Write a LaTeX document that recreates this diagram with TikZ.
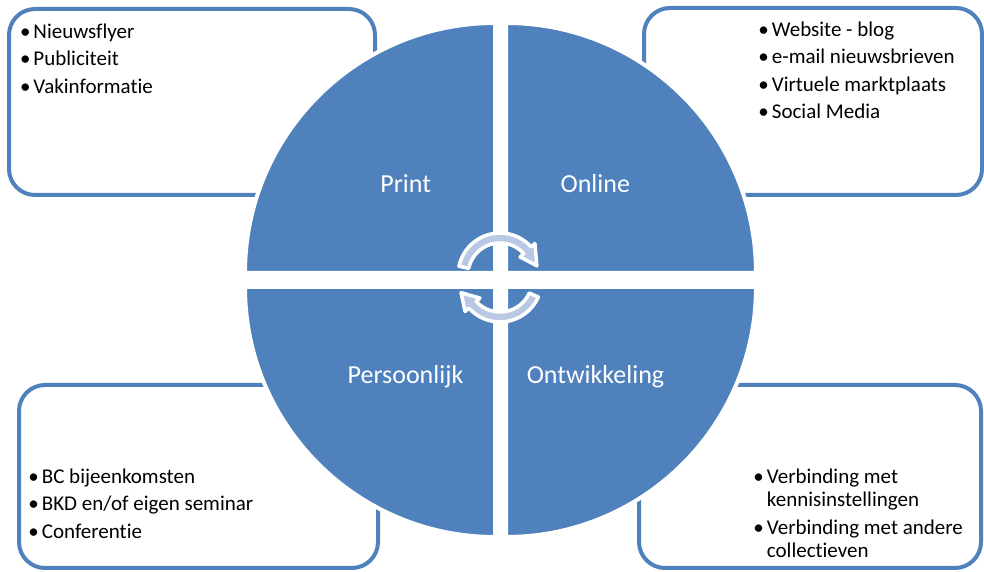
\documentclass[tikz,border=0pt]{standalone}
\usepackage{fontspec}
\setmainfont{Carlito}[RawFeature=-liga]
\definecolor{kwartblauw}{RGB}{79,129,189}
\definecolor{pijllicht}{RGB}{185,201,228}
\newcommand{\bul}{\llap{\textbullet\hspace{3pt}}}
\begin{document}
\begin{tikzpicture}[x=1pt,y=1pt,
    kader/.style={draw=kwartblauw,line width=4pt,rounded corners=26pt,fill=white},
    kwart/.style={fill=kwartblauw,draw=white,line width=4pt},
    pijl/.style={fill=pijllicht,draw=white,line width=3.5pt,line join=round},
    lijst/.style={anchor=base west,inner sep=0pt,font=\fontsize{21}{25}\selectfont},
    titel/.style={anchor=base,inner sep=0pt,text=white,font=\fontsize{26}{30}\selectfont}]
  \useasboundingbox (0,0) rectangle (984,572);
  % kaders in de hoeken
  \draw[kader] (9,377) rectangle (375,563);
  \draw[kader] (644,377) rectangle (982,564);
  \draw[kader] (19,4) rectangle (378,187);
  \draw[kader] (639,4) rectangle (981,187);
  %% vier kwarten
  \draw[kwart] (495,299) -- ++(180:250) arc[start angle=180,end angle=90,radius=250] -- cycle;
  \draw[kwart] (506,299) -- ++(90:250) arc[start angle=90,end angle=0,radius=250] -- cycle;
  \draw[kwart] (495,285) -- ++(270:250) arc[start angle=270,end angle=180,radius=250] -- cycle;
  \draw[kwart] (506,285) -- ++(0:250) arc[start angle=0,end angle=-90,radius=250] -- cycle;
  %% pijlen in het midden
  \begin{scope}[shift={(500,297)}]
    \draw[pijl] (168:42) arc[start angle=168,end angle=42,radius=42] -- (42:47)
      -- (14:38) -- (42:27) -- (42:32) arc[start angle=42,end angle=168,radius=32] -- cycle;
  \end{scope}
  \begin{scope}[shift={(500,292)}]
    \draw[pijl] (-24:42) arc[start angle=-24,end angle=-138,radius=42] -- (-138:47)
      -- (-162:41) -- (-138:27) -- (-138:32) arc[start angle=-138,end angle=-24,radius=32] -- cycle;
  \end{scope}
  %% titels
  \node[titel] (print) at (405.7,379.7) {Print};
  \node[titel] (online) at (595.3,379.7) {Online};
  \node[titel] (pers) at (405.5,188.7) {Persoonlijk};
  \node[titel] (ontw) at (595.5,188.7) {Ontwikkeling};
  %% lijst linksboven
  \node[lijst] (nws) at (33.3,533.7) {\bul Nieuwsflyer};
  \node[lijst] (pub) at (33.3,506.2) {\bul Publiciteit};
  \node[lijst] (vak) at (33.3,478.7) {\bul Vakinformatie};
  %% lijst rechtsboven
  \node[lijst] (web) at (771.7,535.5) {\bul Website - blog};
  \node[lijst] (mail) at (771.7,508) {\bul e-mail nieuwsbrieven};
  \node[lijst] (markt) at (771.7,480.5) {\bul Virtuele marktplaats};
  \node[lijst] (soc) at (771.7,453) {\bul Social Media};
  %% lijst linksonder
  \node[lijst] (bc) at (41.7,88.5) {\bul BC bijeenkomsten};
  \node[lijst] (bkd) at (41.7,61) {\bul BKD en/of eigen seminar};
  \node[lijst] (conf) at (41.7,33.5) {\bul Conferentie};
  %% lijst rechtsonder
  \node[lijst] (verb1) at (766.7,88.7) {\bul Verbinding met};
  \node[lijst] (kenn) at (766.7,65.3) {kennisinstellingen};
  \node[lijst] (verb2) at (766.7,37) {\bul Verbinding met andere};
  \node[lijst] (coll) at (766.7,14.7) {collectieven};
\end{tikzpicture}
\end{document}
